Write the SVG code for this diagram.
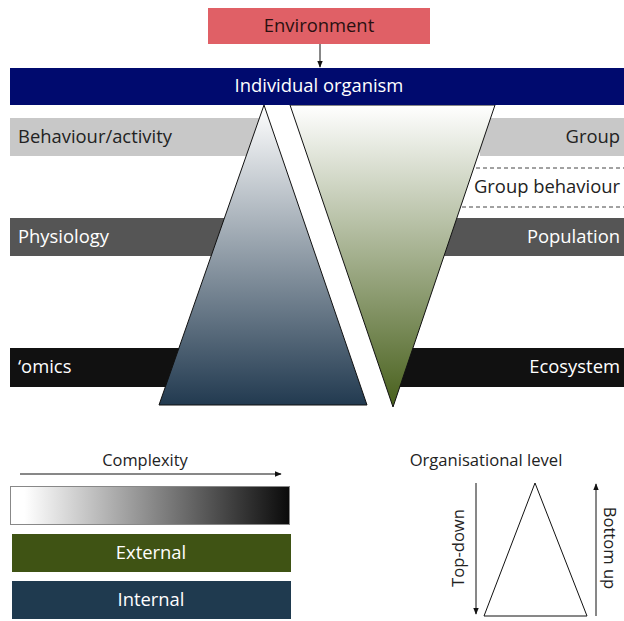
<svg xmlns="http://www.w3.org/2000/svg" width="624" height="621" viewBox="0 0 624 621">
<defs>
<style>
text{font-family:"Open Sans","Noto Sans",sans-serif;font-size:18.4px}
.dk{fill:#222}
.wt{fill:#fff}
.sm{font-size:16.6px}
.ln{stroke:#111;stroke-width:1;fill:none}
.tri{stroke:#111;stroke-width:1}
</style>
<linearGradient id="gBlue" x1="0" y1="0" x2="0" y2="1">
<stop offset="0" stop-color="#ffffff"/>
<stop offset="1" stop-color="#223a50"/>
</linearGradient>
<linearGradient id="gGreen" x1="0" y1="0" x2="0" y2="1">
<stop offset="0" stop-color="#ffffff"/>
<stop offset="1" stop-color="#48601c"/>
</linearGradient>
<linearGradient id="gGray" x1="0" y1="0" x2="1" y2="0">
<stop offset="0.05" stop-color="#ffffff"/>
<stop offset="1" stop-color="#0a0a0a"/>
</linearGradient>
<marker id="ah" viewBox="0 0 10 10" refX="9" refY="5" markerWidth="7" markerHeight="7" orient="auto-start-reverse">
<path d="M0,1 L10,5 L0,9 z" fill="#111"/>
</marker>
</defs>
<rect width="624" height="621" fill="#fff"/>

<g id="environment">
<rect x="208" y="8" width="222" height="36" fill="#e06066"/>
<text x="319" y="32" text-anchor="middle" fill="#2a1010">Environment</text>
</g>

<g id="bars-left">
<g id="behaviour"><rect x="10" y="118" width="250" height="38" fill="#c8c8c8"/><text x="18" y="143" class="dk">Behaviour/activity</text></g>
<g id="physiology"><rect x="10" y="218" width="220" height="38" fill="#555555"/><text x="18" y="243" class="wt">Physiology</text></g>
<g id="omics"><rect x="10" y="348" width="190" height="39" fill="#111111"/><text x="18" y="373" class="wt">‘omics</text></g>
</g>
<g id="bars-right">
<g id="group"><rect x="480" y="118" width="144" height="38" fill="#c8c8c8"/><text x="620" y="143" text-anchor="end" class="dk">Group</text></g>
<g id="group-behaviour">
<line x1="462" y1="168" x2="624" y2="168" stroke="#444" stroke-dasharray="4,3"/>
<line x1="462" y1="207" x2="624" y2="207" stroke="#444" stroke-dasharray="4,3"/>
<text x="620" y="193" text-anchor="end" class="dk">Group behaviour</text>
</g>
<g id="population"><rect x="440" y="218" width="184" height="38" fill="#555555"/><text x="620" y="243" text-anchor="end" class="wt">Population</text></g>
<g id="ecosystem"><rect x="395" y="348" width="229" height="39" fill="#111111"/><text x="620" y="373" text-anchor="end" class="wt">Ecosystem</text></g>
</g>

<g id="internal-triangle"><polygon points="264,105 367,405 159,405" fill="url(#gBlue)" class="tri"/></g>
<g id="external-triangle"><polygon points="290,105 495,105 393,407" fill="url(#gGreen)" class="tri"/></g>

<g id="individual-organism">
<rect x="10" y="68" width="614" height="37" fill="#000a6e"/>
<text x="319" y="92" text-anchor="middle" class="wt">Individual organism</text>
</g>

<g id="connectors">
<line x1="320" y1="44" x2="320" y2="67" class="ln" marker-end="url(#ah)"/>
<line x1="20" y1="474" x2="281" y2="474" class="ln" marker-end="url(#ah)"/>
<line x1="476" y1="483" x2="476" y2="614" class="ln" marker-end="url(#ah)"/>
<line x1="596" y1="616" x2="596" y2="484" class="ln" marker-end="url(#ah)"/>
</g>

<g id="legend-complexity">
<text x="145" y="466" text-anchor="middle" class="dk" style="font-size:16.4px">Complexity</text>
<rect x="10.5" y="486.5" width="279" height="38" fill="url(#gGray)" stroke="#888"/>
</g>
<g id="legend-external"><rect x="12" y="534" width="279" height="38" fill="#3f5314"/><text x="151" y="559" text-anchor="middle" class="wt">External</text></g>
<g id="legend-internal"><rect x="12" y="581" width="279" height="38" fill="#1f3a4f"/><text x="151" y="606" text-anchor="middle" class="wt">Internal</text></g>

<g id="legend-organisational">
<text x="486" y="466" text-anchor="middle" class="dk sm">Organisational level</text>
<polygon points="535,483 587,616 484,616" fill="#fff" class="tri"/>
<text transform="translate(464,548) rotate(-90)" text-anchor="middle" class="dk sm">Top-down</text>
<text transform="translate(604,548) rotate(90)" text-anchor="middle" class="dk sm">Bottom up</text>
</g>
</svg>
